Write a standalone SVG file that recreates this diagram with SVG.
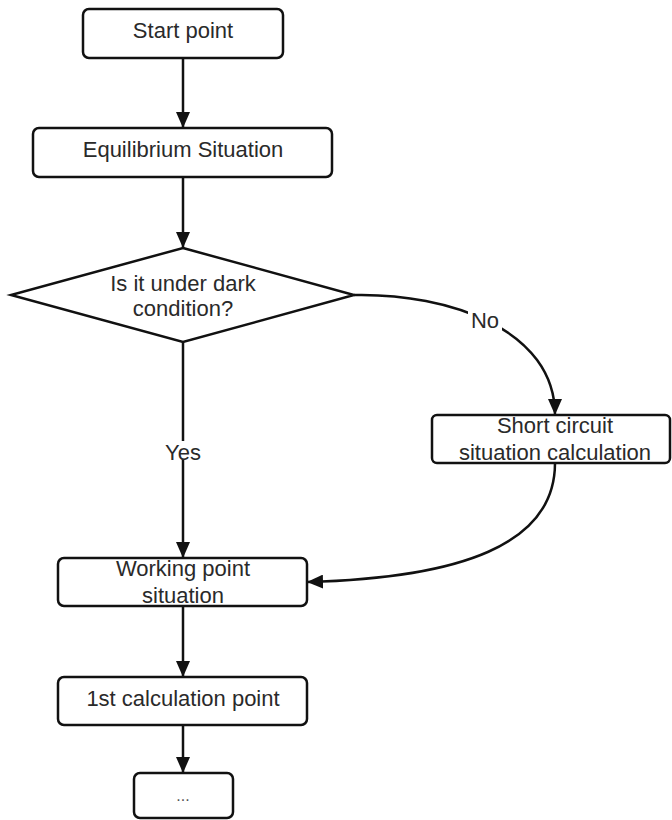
<svg xmlns="http://www.w3.org/2000/svg" width="672" height="820" viewBox="0 0 672 820">
<defs>
<style>
.box{fill:#fff;stroke:#111;stroke-width:2.5}
.t{font-family:"Liberation Sans",Arial,sans-serif;font-size:22px;fill:#2a2a2a;text-anchor:middle}
.c{fill:none;stroke:#111;stroke-width:2.5}
.lbl{fill:#fff}
</style>
<marker id="ah" markerWidth="16" markerHeight="14" refX="16" refY="7" orient="auto" markerUnits="userSpaceOnUse">
<path d="M0,0 L16,7 L0,14 Z" fill="#111"/>
</marker>
</defs>
<rect width="672" height="820" fill="#fff"/>
<g id="connectors">
<path class="c" d="M183,58 L183,128" marker-end="url(#ah)"/>
<path class="c" d="M183,177 L183,248" marker-end="url(#ah)"/>
<path class="c" d="M354,295 C450,293 555,330 555,415" marker-end="url(#ah)"/>
<path class="c" d="M183,342 L183,558" marker-end="url(#ah)"/>
<path class="c" d="M555,463 C555,545 460,578 307,582" marker-end="url(#ah)"/>
<path class="c" d="M183,606 L183,677" marker-end="url(#ah)"/>
<path class="c" d="M183,725 L183,773" marker-end="url(#ah)"/>
<rect class="lbl" x="468" y="309" width="34" height="22"/>
<text class="t" x="485" y="328">No</text>
<rect class="lbl" x="164" y="441" width="38" height="18"/>
<text class="t" x="183" y="460">Yes</text>
</g>
<g id="start">
<rect class="box" x="83" y="9" width="200" height="49" rx="6"/>
<text class="t" x="183" y="38">Start point</text>
</g>
<g id="equilibrium">
<rect class="box" x="33" y="128" width="299" height="49" rx="6"/>
<text class="t" x="183" y="157">Equilibrium Situation</text>
</g>
<g id="decision">
<polygon class="box" points="183,248 354,295 183,342 11,295"/>
<text class="t" x="183" y="291">Is it under dark</text>
<text class="t" x="183" y="316">condition?</text>
</g>
<g id="shortcircuit">
<rect class="box" x="432" y="415" width="238" height="48" rx="5"/>
<text class="t" x="555" y="433">Short circuit</text>
<text class="t" x="555" y="460">situation calculation</text>
</g>
<g id="working">
<rect class="box" x="58" y="558" width="249" height="48" rx="6"/>
<text class="t" x="183" y="576">Working point</text>
<text class="t" x="183" y="603">situation</text>
</g>
<g id="calc1">
<rect class="box" x="58" y="677" width="249" height="48" rx="6"/>
<text class="t" x="183" y="706">1st calculation point</text>
</g>
<g id="more">
<rect class="box" x="134" y="773" width="99" height="45" rx="6"/>
<text class="t" x="183" y="801" style="font-size:16px;fill:#555">...</text>
</g>
</svg>
